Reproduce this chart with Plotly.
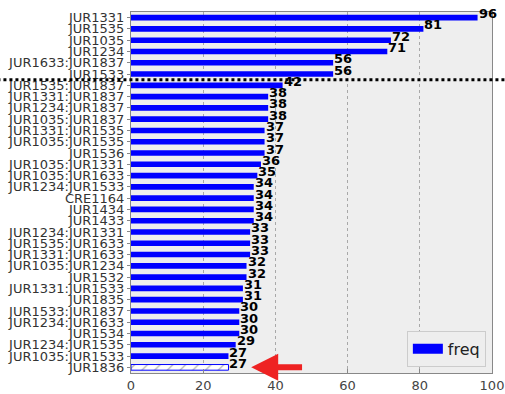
import plotly.graph_objects as go

categories = [
    "JUR1331", "JUR1535", "JUR1035", "JUR1234", "JUR1633:JUR1837", "JUR1533",
    "JUR1535:JUR1837", "JUR1331:JUR1837", "JUR1234:JUR1837", "JUR1035:JUR1837",
    "JUR1331:JUR1535", "JUR1035:JUR1535", "JUR1536", "JUR1035:JUR1331",
    "JUR1035:JUR1633", "JUR1234:JUR1533", "CRE1164", "JUR1434", "JUR1433",
    "JUR1234:JUR1331", "JUR1535:JUR1633", "JUR1331:JUR1633", "JUR1035:JUR1234",
    "JUR1532", "JUR1331:JUR1533", "JUR1835", "JUR1533:JUR1837", "JUR1234:JUR1633",
    "JUR1534", "JUR1234:JUR1535", "JUR1035:JUR1533", "JUR1836",
]
freq = [96, 81, 72, 71, 56, 56, 42, 38, 38, 38, 37, 37, 37, 36, 35, 34, 34, 34, 34,
        33, 33, 33, 32, 32, 31, 31, 30, 30, 30, 29, 27, 27]
x_ticks = [0, 20, 40, 60, 80, 100]
highlight = "JUR1836"
split_after = 6          # dotted separator after the first 6 bars
arrow_tip_x = 33.3
arrow_tail_x = 47.8

n = len(categories)
patterns = ["/" if c == highlight else "" for c in categories]
line_w = [1 if c == highlight else 0 for c in categories]

fig = go.Figure()
fig.add_trace(go.Bar(
    x=freq, y=categories, orientation="h", width=0.5,
    marker=dict(color="#0000ff",
                line=dict(color="#0000ff", width=line_w),
                pattern=dict(shape=patterns, bgcolor="white", size=9, solidity=0.12)),
    showlegend=False, hoverinfo="x+y",
))
# legend entry
fig.add_trace(go.Scatter(x=[None], y=[None], mode="lines", name="freq",
                         line=dict(color="#0000ff", width=10)))

for c, v in zip(categories, freq):
    fig.add_annotation(x=v, y=c, text=f"<b>{v}</b>", showarrow=False,
                       xanchor="left", yanchor="middle", yshift=4, xshift=-1,
                       font=dict(size=13, color="black", family="DejaVu Sans"))

fig.add_shape(type="line", xref="paper", yref="y",
              x0=-0.37, x1=1.04, y0=split_after - 0.5, y1=split_after - 0.5,
              line=dict(color="black", width=3, dash="dot"))

fig.add_annotation(x=arrow_tip_x, y=highlight, ax=arrow_tail_x, ay=highlight,
                   axref="x", ayref="y", xref="x", yref="y", text="",
                   showarrow=True, arrowhead=2, arrowsize=0.9, arrowwidth=6,
                   arrowcolor="#ee2222")

fig.update_layout(
    width=505, height=394,
    margin=dict(l=131, r=13, t=12, b=21, autoexpand=False),
    paper_bgcolor="white", plot_bgcolor="#eeeeee",
    font=dict(family="DejaVu Sans", size=13, color="#333333"),
    bargap=0.5,
    legend=dict(x=0.983, y=0.017, xanchor="right", yanchor="bottom",
                bgcolor="#eeeeee", bordercolor="#cccccc", borderwidth=1,
                font=dict(size=16, color="#222222")),
)
fig.update_xaxes(range=[0, 100], tickmode="array", tickvals=x_ticks, showgrid=True,
                 gridcolor="#a8a8a8", griddash="dot", gridwidth=1,
                 showline=True, linecolor="#888888", mirror=True, automargin=False,
                 tickfont=dict(size=13, color="#444444"), zeroline=False,
                 ticks="inside", ticklen=4, tickcolor="#888888")
fig.update_yaxes(categoryorder="array", categoryarray=categories,
                 tickmode="array", tickvals=categories, ticktext=categories,
                 autorange=False, range=[n - 0.5, -0.5], automargin=False,
                 showgrid=False, showline=True, linecolor="#888888", mirror=True,
                 ticks="outside", ticklen=3, tickcolor="#888888",
                 tickfont=dict(size=13), zeroline=False)

# remove the default 8px page margin so the figure fills the window exactly
fig.write_html("out.html",
               config={"displayModeBar": False},
               post_script="document.body.style.margin='0';"
                           "document.body.style.overflow='hidden';")
